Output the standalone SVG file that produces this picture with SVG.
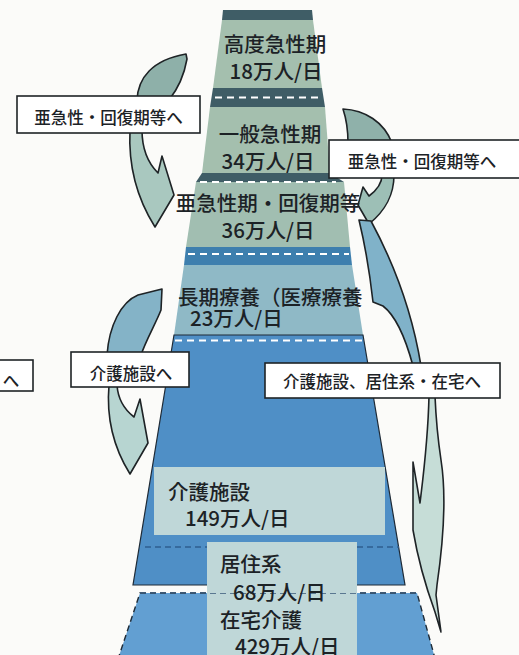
<svg xmlns="http://www.w3.org/2000/svg" width="519" height="655" viewBox="0 0 519 655">
<defs>
<style>
.t{font-family:"Noto Sans CJK JP","Noto Sans CJK SC",sans-serif;fill:#1c2226;font-weight:500;dominant-baseline:central}
.pt{font-size:20.5px}
.lt{font-size:16.5px}
.arr{stroke:#1e2326;stroke-width:1.6;stroke-linejoin:round}
.box{fill:#fff;stroke:#1e2326;stroke-width:1.6}
.dash{stroke:#fff;stroke-width:2;stroke-dasharray:7 5;fill:none}
.dark{fill:#3f5d66}
.green{fill:#a4bfae}
.light{fill:#bfd7d8}
</style>
</defs>
<rect width="519" height="655" fill="#fbfbf9"/>
<g id="connectors">
<path class="arr" fill="#8eb0a9" d="M137,100 C138,78 152,60 186,54 L187,59 C184,76 177,90 169,100 Z"/>
<path class="arr" fill="#a9c8bf" d="M130,130 C128,170 138,200 155,227 L174,195 L162,156 L158,173 C148,163 142,150 142,130 Z"/>
<path class="arr" fill="#8fb1aa" d="M343,109 C365,110 384,122 392,143 L348,143 C348,130 346,118 343,109 Z"/>
<path class="arr" fill="#9dbfb6" d="M394,175 C394,195 386,210 369,224 L358,205 L363,187 L369,196 C377,190 382,184 382,175 Z"/>
<path class="arr" fill="#80b2c9" d="M359,220 L371,221 C392,260 412,310 421,366 L413,366 C405,336 396,316 383,306 L373,302 C370,275 365,245 359,220 Z"/>
<path class="arr" fill="#c6ddd7" d="M429,396 L435,396 C436,420 438,440 441,460 C446,492 445,530 437,585 L436,595 L441,632 L435,612 C427,590 418,560 413,530 L413,462 L420,503 C424,470 428,440 429,396 Z"/>
<path class="arr" fill="#84b3c7" d="M107,355 C109,326 121,302 138,295 L162,289 L161,310 C155,325 146,340 141,355 Z"/>
<path class="arr" fill="#b7d5d1" d="M109,385 C106,420 115,450 130,474 L148,443 L140,399 L134,417 C125,410 118,400 117,385 Z"/>
</g>
<g id="node-koudo">
<polygon class="dark" points="223,10 312,10 313,20 222,20"/>
<polygon class="green" points="222,20 313,20 322,88 213,88"/>
<text class="t pt" x="275" y="43" text-anchor="middle">高度急性期</text>
<text class="t pt" x="276" y="69.5" text-anchor="middle">18万人/日</text>
</g>
<g id="node-ippan">
<polygon class="dark" points="213,88 322,88 325,107 210,107"/>
<line class="dash" x1="215" y1="97.5" x2="322" y2="97.5"/>
<polygon class="green" points="210,107 325,107 330,173 202,173"/>
<text class="t pt" x="270" y="133" text-anchor="middle">一般急性期</text>
<text class="t pt" x="268" y="159.5" text-anchor="middle">34万人/日</text>
</g>
<g id="node-akyusei">
<polygon class="dark" points="202,173 330,173 344,182 196,182"/>
<polygon fill="#a1beb1" points="196,182 344,182 350,247 186,247"/>
<line class="dash" x1="200" y1="182" x2="336" y2="182"/>
<text class="t pt" x="268" y="202" text-anchor="middle">亜急性期・回復期等</text>
<text class="t pt" x="268" y="228.5" text-anchor="middle">36万人/日</text>
</g>
<g id="node-chouki">
<polygon fill="#3e7fae" points="186,247 350,247 352,265 184,265"/>
<line class="dash" x1="188" y1="254" x2="349" y2="254"/>
<polygon fill="#8fb9c6" points="184,265 352,265 363,335 174,335"/>
<text class="t pt" x="178" y="296">長期療養（医療療養</text>
<text class="t pt" x="190" y="317">23万人/日</text>
</g>
<g id="node-kaigo">
<polygon fill="#4f8fc6" stroke="#1e2a36" stroke-width="1.2" points="174,335 363,335 405,585 133,585"/>
<line class="dash" x1="175" y1="340.5" x2="362" y2="340.5"/>
<rect class="light" x="154" y="467" width="231" height="68"/>
<text class="t pt" x="168" y="491">介護施設</text>
<text class="t pt" x="185" y="517">149万人/日</text>
</g>
<g id="node-zaitaku">
<polygon fill="#629fd2" stroke="#1e2a36" stroke-width="1.4" stroke-dasharray="6 4" points="140,593 417,593 436,662 117,662"/>
<rect class="light" x="207" y="593" width="150" height="64"/>
<line stroke="#3a5a7a" stroke-width="1.4" stroke-dasharray="6 4" x1="140" y1="593" x2="417" y2="593"/>
<text class="t pt" x="220" y="619">在宅介護</text>
<text class="t pt" x="235" y="645">429万人/日</text>
</g>
<g id="node-kyojuu">
<rect class="light" x="207" y="542" width="150" height="51"/>
<line stroke="#2f5f90" stroke-width="1.4" stroke-dasharray="6 4" x1="145" y1="547" x2="207" y2="547"/>
<line stroke="#2f5f90" stroke-width="1.4" stroke-dasharray="6 4" x1="357" y1="547" x2="399" y2="547"/>
<text class="t pt" x="220" y="563">居住系</text>
<text class="t pt" x="233" y="591">68万人/日</text>
</g>
<g id="label-1">
<rect class="box" x="17" y="96" width="183" height="37"/>
<text class="t lt" x="108.5" y="116.5" text-anchor="middle">亜急性・回復期等へ</text>
</g>
<g id="label-2">
<rect class="box" x="329" y="140" width="200" height="38"/>
<text class="t lt" x="422" y="161" text-anchor="middle">亜急性・回復期等へ</text>
</g>
<g id="label-3">
<rect class="box" x="265" y="363" width="235" height="35"/>
<text class="t lt" x="382" y="381" text-anchor="middle">介護施設、居住系・在宅へ</text>
</g>
<g id="label-4">
<rect class="box" x="71" y="352" width="118" height="35"/>
<text class="t lt" x="131" y="373" text-anchor="middle">介護施設へ</text>
</g>
<g id="label-5">
<rect class="box" x="-5" y="360" width="38" height="31"/>
<text class="t lt" x="11" y="380" text-anchor="middle">へ</text>
</g>
</svg>
